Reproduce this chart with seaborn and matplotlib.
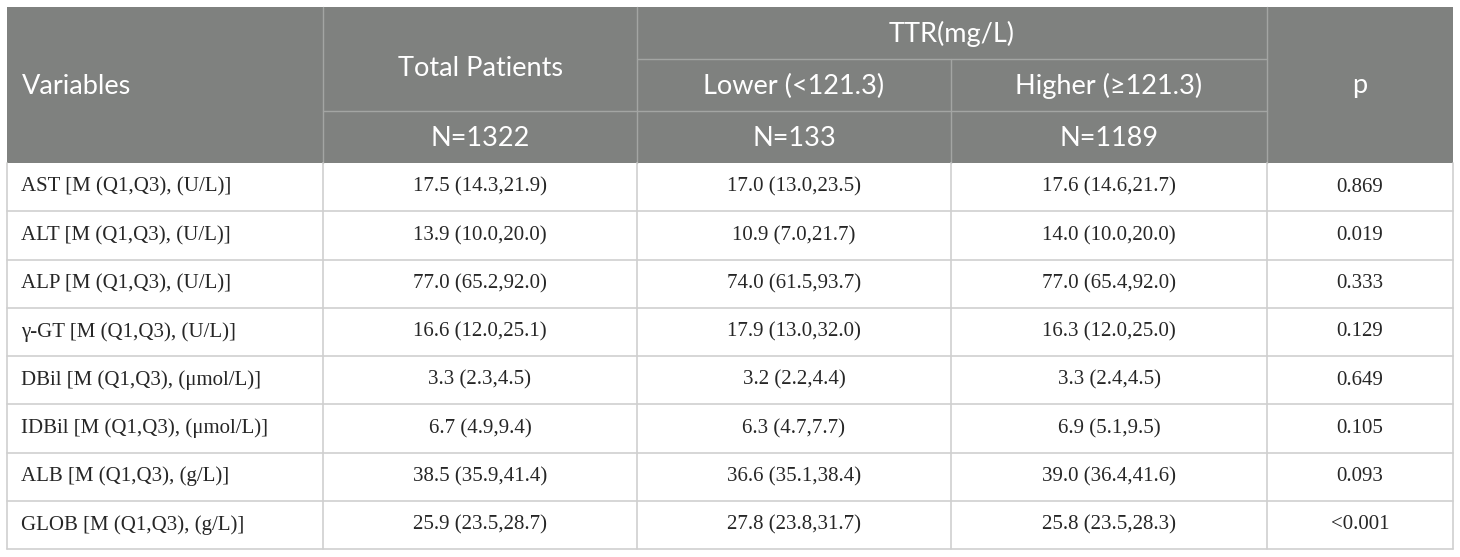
import numpy as np
import matplotlib
matplotlib.use('Agg')
import matplotlib.pyplot as plt
import seaborn as sns

# table content
variables = [
    'AST [M (Q1,Q3), (U/L)]',
    'ALT [M (Q1,Q3), (U/L)]',
    'ALP [M (Q1,Q3), (U/L)]',
    'γ-GT [M (Q1,Q3), (U/L)]',
    'DBil [M (Q1,Q3), (μmol/L)]',
    'IDBil [M (Q1,Q3), (μmol/L)]',
    'ALB [M (Q1,Q3), (g/L)]',
    'GLOB [M (Q1,Q3), (g/L)]',
]
total_patients = ['17.5 (14.3,21.9)', '13.9 (10.0,20.0)', '77.0 (65.2,92.0)', '16.6 (12.0,25.1)',
                  '3.3 (2.3,4.5)', '6.7 (4.9,9.4)', '38.5 (35.9,41.4)', '25.9 (23.5,28.7)']
ttr_lower = ['17.0 (13.0,23.5)', '10.9 (7.0,21.7)', '74.0 (61.5,93.7)', '17.9 (13.0,32.0)',
             '3.2 (2.2,4.4)', '6.3 (4.7,7.7)', '36.6 (35.1,38.4)', '27.8 (23.8,31.7)']
ttr_higher = ['17.6 (14.6,21.7)', '14.0 (10.0,20.0)', '77.0 (65.4,92.0)', '16.3 (12.0,25.0)',
              '3.3 (2.4,4.5)', '6.9 (5.1,9.5)', '39.0 (36.4,41.6)', '25.8 (23.5,28.3)']
p_values = ['0.869', '0.019', '0.333', '0.129', '0.649', '0.105', '0.093', '<0.001']

group_label = 'TTR(mg/L)'
col_labels = ['Variables', 'Total Patients', 'Lower (<121.3)', 'Higher (≥121.3)', 'p']
n_labels = ['N=1322', 'N=133', 'N=1189']

sns.set_theme(style='white')
plt.rcParams['font.family'] = ['Lato', 'DejaVu Sans']

W, H = 1460, 557
fig = plt.figure(figsize=(W / 100, H / 100), dpi=100)
ax = fig.add_axes([0, 0, 1, 1])
ax.set_xlim(0, W)
ax.set_ylim(H, 0)
ax.axis('off')

xs = [7, 323, 637, 951, 1267, 1453]
hy = [7, 59, 111, 163]
bottom = 549
n = len(variables)
ry = np.linspace(hy[3], bottom, n + 1)

head_bg = '#7f817f'
head_line = '#a3a5a3'
body_line = '#cfcfcf'
body_txt = '#262626'

# header background
ax.add_patch(plt.Rectangle((xs[0], hy[0]), xs[-1] - xs[0], hy[3] - hy[0],
                           facecolor=head_bg, edgecolor='none', zorder=1))

# header lines
for x in (xs[1], xs[2], xs[4]):
    ax.plot([x, x], [hy[0], hy[3]], color=head_line, lw=1, zorder=2)
ax.plot([xs[3], xs[3]], [hy[1], hy[3]], color=head_line, lw=1, zorder=2)
ax.plot([xs[2], xs[4]], [hy[1], hy[1]], color=head_line, lw=1, zorder=2)
ax.plot([xs[1], xs[4]], [hy[2], hy[2]], color=head_line, lw=1, zorder=2)

hfs = 19.5
hkw = dict(color='white', fontsize=hfs, zorder=3)
ax.text(xs[0] + 15, 86, col_labels[0], ha='left', va='center', **hkw)
ax.text((xs[1] + xs[2]) / 2, 69, col_labels[1], ha='center', va='center', **hkw)
ax.text((xs[2] + xs[4]) / 2, 34, group_label, ha='center', va='center', **hkw)
ax.text((xs[2] + xs[3]) / 2, 86, col_labels[2], ha='center', va='center', **hkw)
ax.text((xs[3] + xs[4]) / 2, 86, col_labels[3], ha='center', va='center', **hkw)
ax.text((xs[4] + xs[5]) / 2, 86, col_labels[4], ha='center', va='center', **hkw)
for i, lab in enumerate(n_labels):
    ax.text((xs[i + 1] + xs[i + 2]) / 2, 138, lab, ha='center', va='center', **hkw)

# body lines
for y in ry[1:]:
    ax.plot([xs[0], xs[-1]], [y, y], color=body_line, lw=1.2, zorder=2)
for x in xs:
    ax.plot([x, x], [hy[3], bottom], color=body_line, lw=1.2, zorder=2)

bfs = 15
bkw = dict(color=body_txt, fontsize=bfs, family=['Liberation Serif', 'DejaVu Serif'], zorder=3)
for i in range(n):
    yc = (ry[i] + ry[i + 1]) / 2
    ax.text(xs[0] + 14, yc, variables[i], ha='left', va='center', **bkw)
    ax.text((xs[1] + xs[2]) / 2, yc, total_patients[i], ha='center', va='center', **bkw)
    ax.text((xs[2] + xs[3]) / 2, yc, ttr_lower[i], ha='center', va='center', **bkw)
    ax.text((xs[3] + xs[4]) / 2, yc, ttr_higher[i], ha='center', va='center', **bkw)
    ax.text((xs[4] + xs[5]) / 2, yc, p_values[i], ha='center', va='center', **bkw)

fig.savefig('out.png', dpi=100, facecolor='white')
plt.close(fig)
